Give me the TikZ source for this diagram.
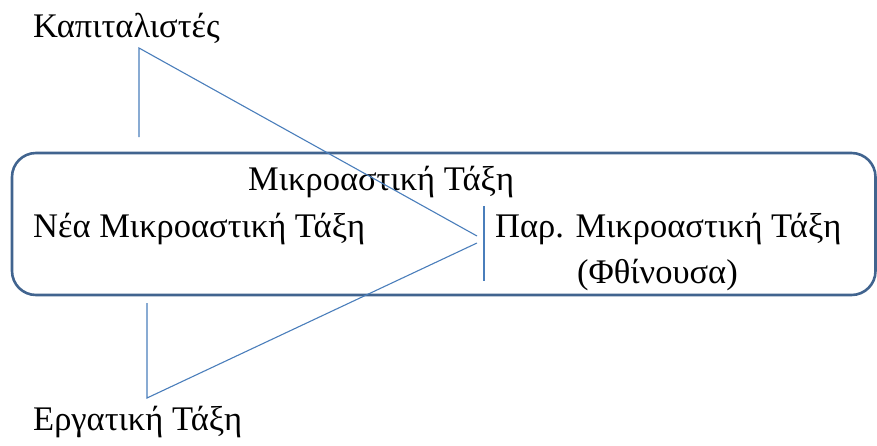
\documentclass[tikz,border=0pt]{standalone}
\usepackage{fontspec}
\setmainfont{Liberation Serif}
\definecolor{boxblue}{HTML}{41648F}
\definecolor{lineblue}{HTML}{4A7EBB}
\begin{document}
\begin{tikzpicture}[x=1pt,y=-1pt,
  lbl/.style={inner sep=0pt,font=\fontsize{34.5}{40}\selectfont,text=black},
  conn/.style={draw=lineblue,line width=1.1pt},
  frame/.style={draw=boxblue,line width=2.6pt,rounded corners=24pt}]
\useasboundingbox (0,0) rectangle (877,445);
\draw[frame] (12,153) rectangle (875.5,295);
\node[lbl,anchor=base west] (kap) at (33,37) {Καπιταλιστές};
\node[lbl,anchor=base west] (mik) at (248,190) {Μικροαστική Τάξη};
\node[lbl,anchor=base west] (nea) at (33,237) {Νέα Μικροαστική Τάξη};
\node[lbl,anchor=base west] (par) at (495,237) {Παρ. Μικροαστική Τάξη};
\node[lbl,anchor=base west] (fth) at (577,283) {(Φθίνουσα)};
\node[lbl,anchor=base west] (erg) at (33,430) {Εργατική Τάξη};
\coordinate (t0) at (139,137);
\coordinate (t1) at (139,48);
\coordinate (t2) at (477,236);
\coordinate (b0) at (147,303);
\coordinate (b1) at (147,398);
\coordinate (b2) at (477,243);
\coordinate (v0) at (484,206);
\coordinate (v1) at (484,281);
\draw[conn] (t0) -- (t1) -- (t2);
\draw[conn] (b0) -- (b1) -- (b2);
\draw[conn] (v0) -- (v1);
\end{tikzpicture}
\end{document}
